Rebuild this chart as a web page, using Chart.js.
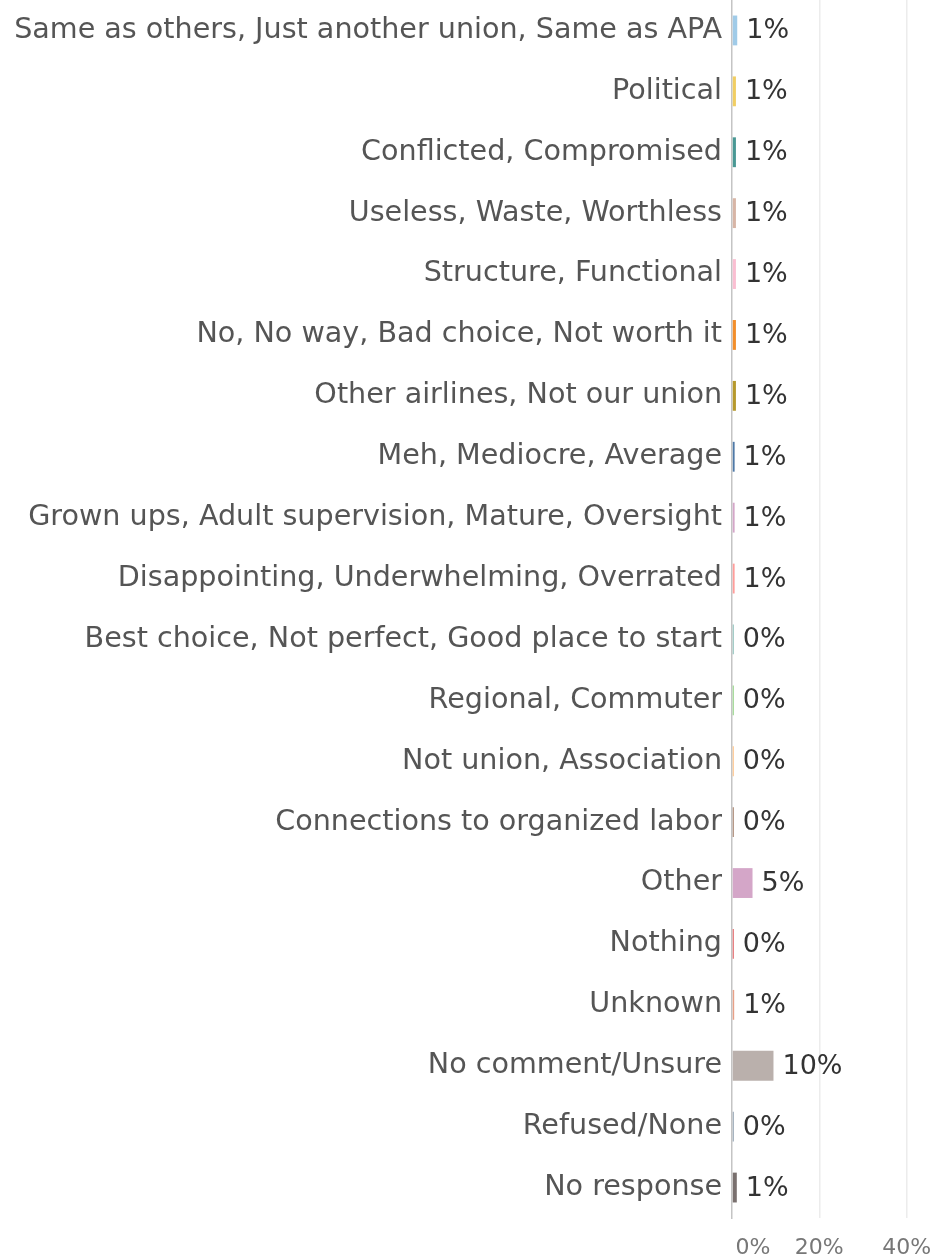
<!DOCTYPE html>
<html>
<head>
<meta charset="utf-8">
<script src="https://cdn.jsdelivr.net/npm/chart.js@4.4.1/dist/chart.umd.min.js"></script>
<style>
  html, body { margin: 0; padding: 0; background: #fff; }
  #wrap { width: 935px; height: 1257px; position: relative; }
</style>
</head>
<body>
<div id="wrap"><canvas id="grafico"></canvas></div>
<script>
const categorias = [
    "Same as others, Just another union, Same as APA",
    "Political",
    "Conflicted, Compromised",
    "Useless, Waste, Worthless",
    "Structure, Functional",
    "No, No way, Bad choice, Not worth it",
    "Other airlines, Not our union",
    "Meh, Mediocre, Average",
    "Grown ups, Adult supervision, Mature, Oversight",
    "Disappointing, Underwhelming, Overrated",
    "Best choice, Not perfect, Good place to start",
    "Regional, Commuter",
    "Not union, Association",
    "Connections to organized labor",
    "Other",
    "Nothing",
    "Unknown",
    "No comment/Unsure",
    "Refused/None",
    "No response"
];

// porcentaje de respuestas
const valores = [1.2, 0.9, 0.9, 0.9, 0.9, 0.9, 0.9, 0.6, 0.6, 0.6, 0.4, 0.4, 0.4, 0.4, 4.7, 0.4, 0.5, 9.5, 0.4, 1.1];

const colores = [
    "#a0cbe8", "#f1ce63", "#499894", "#d7b5a6", "#fabfd2",
    "#f28e2b", "#b6992d", "#4e79a7", "#d4a6c8", "#ff9d9a",
    "#86bcb6", "#8cd17d", "#ffbe7d", "#9d7660", "#d4a6c8",
    "#e15759", "#e8a087", "#bab0ac", "#8a9bab", "#79706e"
];

const ticksX = [0, 20, 40];

const fuente = "'DejaVu Sans', sans-serif";

// etiquetas de valor al final de cada barra
const etiquetasValor = {
    id: 'etiquetasValor',
    afterDatasetsDraw(chart) {
        const ctx = chart.ctx;
        const meta = chart.getDatasetMeta(0);
        ctx.save();
        ctx.font = "27px " + fuente;
        ctx.fillStyle = "#333";
        ctx.textAlign = "left";
        ctx.textBaseline = "middle";
        meta.data.forEach((barra, i) => {
            ctx.fillText(Math.round(valores[i]) + "%", barra.x + 9, barra.y + 1);
        });
        ctx.restore();
    }
};

const ctx = document.getElementById('grafico').getContext('2d');
new Chart(ctx, {
    type: 'bar',
    data: {
        labels: categorias,
        datasets: [{
            data: valores,
            backgroundColor: colores,
            borderWidth: 0,
            barPercentage: 0.49,
            categoryPercentage: 1
        }]
    },
    plugins: [etiquetasValor],
    options: {
        indexAxis: 'y',
        responsive: true,
        maintainAspectRatio: false,
        animation: false,
        layout: { padding: { left: 0, right: 0, top: -2, bottom: 0 } },
        plugins: {
            legend: { display: false },
            tooltip: { enabled: false }
        },
        scales: {
            x: {
                min: 0,
                max: 46.5,
                afterBuildTicks: (eje) => {
                    eje.ticks = ticksX.map(v => ({ value: v }));
                },
                afterFit: (eje) => {
                    eje.height = 39;
                    eje.paddingLeft = 0;
                    eje.paddingRight = 0;
                },
                grid: {
                    drawTicks: false,
                    color: (c) => (c.tick && c.tick.value === 0) ? 'rgba(0,0,0,0)' : '#ececec',
                    lineWidth: 1.5
                },
                border: { display: false },
                ticks: {
                    padding: 17,
                    color: "#777",
                    font: { family: fuente, size: 22 },
                    // el 0% va corrido a la derecha como en el original
                    callback: (v) => (v === 0 ? "\u2007\u2007\u2007" : "") + v + "%"
                }
            },
            y: {
                afterFit: (eje) => {
                    eje.width = 732;
                    eje.paddingTop = 0;
                    eje.paddingBottom = 0;
                },
                grid: { display: false, drawTicks: false },
                border: { display: true, color: '#c4c4c4', width: 1.5, dash: [2, 4] },
                ticks: {
                    padding: 10,
                    color: "#555",
                    font: { family: fuente, size: 28.6 }
                }
            }
        }
    }
});
</script>
</body>
</html>
